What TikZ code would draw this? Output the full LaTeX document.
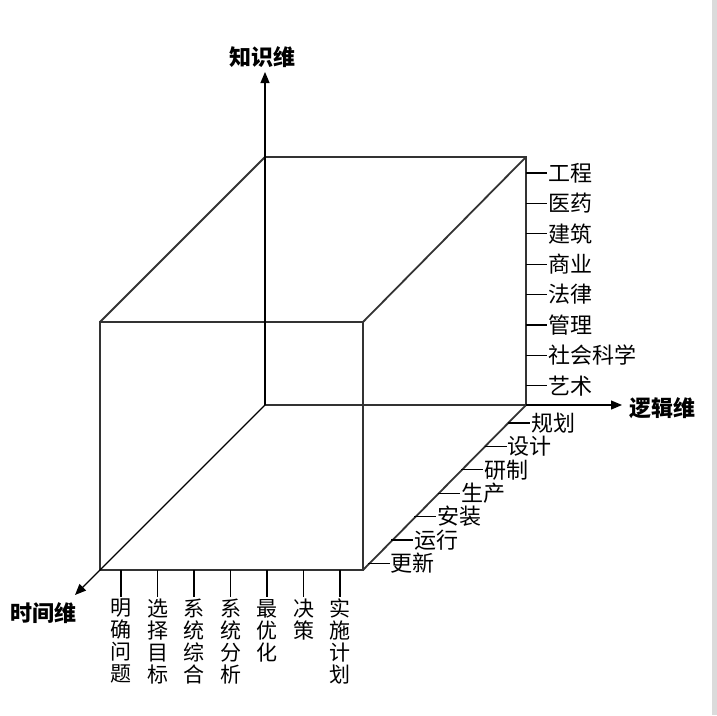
\documentclass[tikz,border=0pt]{standalone}
\usepackage{fontspec}
\newfontfamily\cjk{Noto Sans CJK SC}
\usetikzlibrary{arrows.meta,calc}
\begin{document}
\begin{tikzpicture}[x=1pt,y=-1pt,
  boxline/.style={line width=1.8pt,draw=black!80},
  axis/.style={line width=1.2pt,draw=black,-{Triangle[length=11pt,width=9pt]}},
  tick/.style={line width=1.3pt,draw=black},
  lab/.style={font=\cjk\fontsize{22}{24}\selectfont,inner sep=0pt},
  axlab/.style={font=\cjk\bfseries\fontsize{22}{24}\selectfont,inner sep=0pt},
  vlab/.style={font=\cjk\fontsize{21}{22}\selectfont,inner sep=0pt,align=center,anchor=north}]
\useasboundingbox (0,0) rectangle (717,715);
\fill[white] (0,0) rectangle (717,715);
\fill[black!14] (712,0) rectangle (717,715);
% corners
\coordinate (O) at (265,405);
\coordinate (BTL) at (265,157);
\coordinate (BTR) at (526,157);
\coordinate (BBR) at (526,405);
\coordinate (FTL) at (100,322);
\coordinate (FTR) at (363,322);
\coordinate (FBR) at (363,570);
\coordinate (FBL) at (100,570);
\coordinate (Kend) at (265,72);
\coordinate (Lend) at (622,405);
\coordinate (Tend) at (75,595);
% box
\draw[boxline] (BTL) -- (BTR) -- (BBR) -- (O);
\draw[boxline] (FTL) -- (FTR) -- (FBR) -- (FBL) -- cycle;
\draw[boxline] (FTL) -- (BTL);
\draw[boxline] (FTR) -- (BTR);
\draw[boxline] (FBR) -- (BBR);
% axes
\draw[axis] (O) -- (Kend);
\draw[axis] (BBR) -- (Lend);
\draw[axis] (O) -- (Tend);
\node[axlab] (K) at (262,57) {知识维};
\node[axlab,anchor=west] (L) at (629,408) {逻辑维};
\node[axlab] (T) at (43,613) {时间维};
% knowledge labels
\foreach \t [count=\i from 0] in {工程,医药,建筑,商业,法律,管理,社会科学,艺术}{
  \coordinate (k\i) at (526,{173+30.4*\i});
  \coordinate (kk\i) at (547,{173+30.4*\i});
  \draw[tick] (k\i) -- (kk\i);
  \node[lab,anchor=west] (kl\i) at (548,{173+30.4*\i}) {\t};
}
% logic labels
\foreach \t [count=\i from 0] in {规划,设计,研制,生产,安装,运行,更新}{
  \coordinate (l\i) at ({526-(18+23.4*\i)},{423+23.4*\i});
  \coordinate (ll\i) at ({526-(18+23.4*\i)+22},{423+23.4*\i});
  \draw[tick] (l\i) -- (ll\i);
  \node[lab,anchor=west] (lt\i) at ({526-(18+23.4*\i)+23},{423+23.4*\i}) {\t};
}
% time labels
\foreach \t [count=\i from 0] in {明\\确\\问\\题,选\\择\\目\\标,系\\统\\综\\合,系\\统\\分\\析,最\\优\\化,决\\策,实\\施\\计\\划}{
  \coordinate (t\i) at ({121+36.5*\i},570);
  \coordinate (tt\i) at ({121+36.5*\i},597);
  \draw[tick] (t\i) -- (tt\i);
  \node[vlab] (tl\i) at ({121+36.5*\i},599) {\t};
}
\end{tikzpicture}
\end{document}
